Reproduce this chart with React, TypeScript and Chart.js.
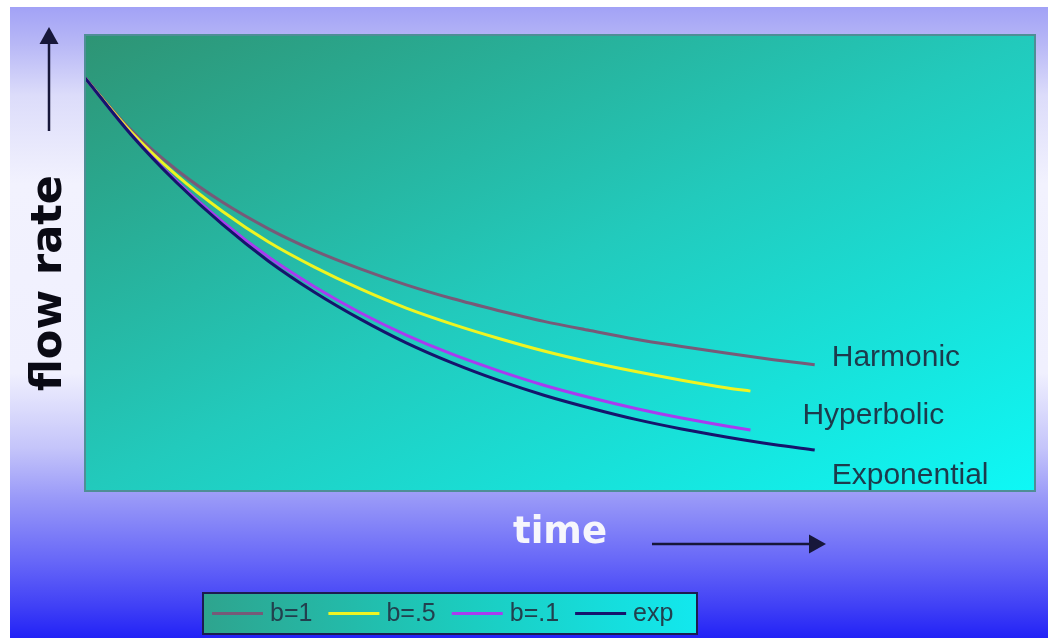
import React, { useEffect, useRef } from "react";
import { Chart, registerables } from "chart.js";

Chart.register(...registerables);

// Time steps (arbitrary units) for the long and short decline curves
const timeLong = [0, 5, 10, 15, 20, 25, 30, 35, 40, 45, 50, 55, 60, 65, 70, 75, 79.5];
const timeShort = [0, 5, 10, 15, 20, 25, 30, 35, 40, 45, 50, 55, 60, 65, 70, 72.5];

// Flow rate (relative units) for each decline type
const harmonicRate = [90.6, 79.2, 70.4, 63.3, 57.5, 52.7, 48.7, 45.2, 42.2, 39.6, 37.2, 35.2, 33.3, 31.7, 30.2, 28.8, 27.7];
const hyperbolicHalfRate = [90.6, 78.8, 69.2, 61.3, 54.6, 49.1, 44.3, 40.1, 36.6, 33.5, 30.7, 28.3, 26.2, 24.3, 22.6, 21.9];
const hyperbolicTenthRate = [90.6, 78.3, 67.9, 59.0, 51.3, 44.8, 39.1, 34.2, 30.0, 26.4, 23.2, 20.5, 18.1, 16.0, 14.2, 13.4];
const exponentialRate = [90.6, 78.2, 67.6, 58.4, 50.4, 43.6, 37.7, 32.5, 28.1, 24.3, 21.0, 18.2, 15.7, 13.6, 11.8, 10.2, 9.0];

const seriesLabels = ["b=1", "b=.5", "b=.1", "exp"];
const curveNames = ["Harmonic", "Hyperbolic", "Exponential"];
const axisTitles = ["flow rate", "time"];

const seriesColors = ["#775a78", "#eef422", "#a83cf0", "#15146c"];

const toPoints = (xs: number[], ys: number[]) => xs.map((x, i) => ({ x, y: ys[i] }));

const sans = '"Liberation Sans", Arial, sans-serif';
const wide = '"DejaVu Sans", Verdana, sans-serif';

function arrow(ctx: CanvasRenderingContext2D, x1: number, y1: number, x2: number, y2: number) {
  const ang = Math.atan2(y2 - y1, x2 - x1);
  const headLen = 17;
  const headHalf = 9.5;
  const bx = x2 - Math.cos(ang) * headLen;
  const by = y2 - Math.sin(ang) * headLen;
  ctx.strokeStyle = "#17173a";
  ctx.fillStyle = "#17173a";
  ctx.lineWidth = 2.5;
  ctx.beginPath();
  ctx.moveTo(x1, y1);
  ctx.lineTo(bx, by);
  ctx.stroke();
  ctx.beginPath();
  ctx.moveTo(x2, y2);
  ctx.lineTo(bx - Math.sin(ang) * headHalf, by + Math.cos(ang) * headHalf);
  ctx.lineTo(bx + Math.sin(ang) * headHalf, by - Math.cos(ang) * headHalf);
  ctx.closePath();
  ctx.fill();
}

const decor = {
  id: "decor",
  beforeDraw(chart: any) {
    const { ctx, width, height, chartArea: a } = chart;
    ctx.save();
    ctx.fillStyle = "#ffffff";
    ctx.fillRect(0, 0, width, height);

    // slide backdrop: lavender top, pale middle, deep blue bottom
    const bg = ctx.createLinearGradient(0, 7, 0, height);
    bg.addColorStop(0, "#a2a2f6");
    bg.addColorStop(0.06, "#b8b8f6");
    bg.addColorStop(0.14, "#dcdcfa");
    bg.addColorStop(0.28, "#f2f2fe");
    bg.addColorStop(0.58, "#f0f0fe");
    bg.addColorStop(0.7, "#c4c4fa");
    bg.addColorStop(0.78, "#9898f8");
    bg.addColorStop(0.88, "#6666f8");
    bg.addColorStop(0.95, "#4040f6");
    bg.addColorStop(1, "#2222f6");
    ctx.fillStyle = bg;
    ctx.fillRect(10, 7, width - 10, height - 7);

    // plot panel: green top-left fading to cyan bottom-right
    const pg = ctx.createLinearGradient(a.left, a.top, a.left + 354, a.top + 740);
    pg.addColorStop(0, "#2e9474");
    pg.addColorStop(0.5, "#22cabc");
    pg.addColorStop(1, "#0ef8f6");
    ctx.fillStyle = pg;
    ctx.fillRect(a.left, a.top, a.right - a.left, a.bottom - a.top);
    ctx.restore();
  },
  afterDraw(chart: any) {
    const { ctx, chartArea: a, scales } = chart;
    const xs = scales.x;
    const ys = scales.y;
    ctx.save();

    // panel border
    ctx.strokeStyle = "#4f8e96";
    ctx.lineWidth = 2;
    ctx.strokeRect(a.left, a.top, a.right - a.left, a.bottom - a.top);

    // curve names beside the ends of the lines
    const endLong = xs.getPixelForValue(timeLong[timeLong.length - 1]);
    const endShort = xs.getPixelForValue(timeShort[timeShort.length - 1]);
    const hEnd = ys.getPixelForValue(harmonicRate[harmonicRate.length - 1]);
    const yEnd = ys.getPixelForValue(hyperbolicHalfRate[hyperbolicHalfRate.length - 1]);
    const pEnd = ys.getPixelForValue(hyperbolicTenthRate[hyperbolicTenthRate.length - 1]);
    const eEnd = ys.getPixelForValue(exponentialRate[exponentialRate.length - 1]);
    ctx.fillStyle = "#1d3a4c";
    ctx.font = `30px ${sans}`;
    ctx.textAlign = "left";
    ctx.textBaseline = "alphabetic";
    ctx.fillText(curveNames[0], endLong + 17, hEnd + 1);
    ctx.fillText(curveNames[1], endShort + 52, (yEnd + pEnd) / 2 + 13);
    ctx.fillText(curveNames[2], endLong + 17, eEnd + 34);

    // axis titles
    ctx.save();
    ctx.translate(61, 283);
    ctx.rotate(-Math.PI / 2);
    ctx.fillStyle = "#0a0a14";
    ctx.font = `bold 43px ${wide}`;
    ctx.textAlign = "center";
    ctx.fillText(axisTitles[0], 0, 0);
    ctx.restore();

    ctx.fillStyle = "#f6f6fc";
    ctx.font = `bold 37px ${wide}`;
    ctx.textAlign = "left";
    ctx.fillText(axisTitles[1], 513, 543);

    // direction arrows
    arrow(ctx, 49, 131, 49, 27);
    arrow(ctx, 652, 544, 826, 544);

    // legend box
    const lx = 203, ly = 593, lw = 494, lh = 41;
    const lg = ctx.createLinearGradient(lx, 0, lx + lw, 0);
    lg.addColorStop(0, "#2ea48e");
    lg.addColorStop(0.5, "#1ccabc");
    lg.addColorStop(1, "#12e8ee");
    ctx.fillStyle = lg;
    ctx.fillRect(lx, ly, lw, lh);
    ctx.strokeStyle = "#1c1c50";
    ctx.lineWidth = 2;
    ctx.strokeRect(lx, ly, lw, lh);

    ctx.font = `25px ${sans}`;
    ctx.textBaseline = "middle";
    let cx = lx + 9;
    const cy = ly + lh / 2;
    chart.data.datasets.forEach((ds: any) => {
      ctx.strokeStyle = ds.borderColor;
      ctx.lineWidth = 3;
      ctx.beginPath();
      ctx.moveTo(cx, cy);
      ctx.lineTo(cx + 51, cy);
      ctx.stroke();
      cx += 58;
      ctx.fillStyle = "#22404e";
      ctx.fillText(ds.label, cx, cy + 1);
      cx += ctx.measureText(ds.label).width + 16;
    });

    ctx.restore();
  },
};

export default function App() {
  const canvasRef = useRef<HTMLCanvasElement | null>(null);

  useEffect(() => {
    const canvas = canvasRef.current;
    if (!canvas) return;
    const chart = new Chart(canvas, {
      type: "line",
      data: {
        datasets: [
          { label: seriesLabels[0], data: toPoints(timeLong, harmonicRate), borderColor: seriesColors[0], order: 3 },
          { label: seriesLabels[1], data: toPoints(timeShort, hyperbolicHalfRate), borderColor: seriesColors[1], order: 2 },
          { label: seriesLabels[2], data: toPoints(timeShort, hyperbolicTenthRate), borderColor: seriesColors[2], order: 1 },
          { label: seriesLabels[3], data: toPoints(timeLong, exponentialRate), borderColor: seriesColors[3], order: 0 },
        ],
      },
      options: {
        responsive: false,
        animation: false,
        devicePixelRatio: 1,
        layout: { padding: { left: 85, top: 35, right: 13, bottom: 147 } },
        plugins: { legend: { display: false }, tooltip: { enabled: false } },
        elements: {
          point: { radius: 0 },
          line: { borderWidth: 3, cubicInterpolationMode: "monotone", fill: false },
        },
        scales: {
          x: { type: "linear", display: false, min: 0, max: 103.5 },
          y: { type: "linear", display: false, min: 0, max: 100 },
        },
      },
      plugins: [decor],
    });
    return () => chart.destroy();
  }, []);

  return (
    <div style={{ position: "absolute", left: 0, top: 0, width: 1048, height: 638 }}>
      <canvas ref={canvasRef} width={1048} height={638} style={{ display: "block" }} />
    </div>
  );
}
